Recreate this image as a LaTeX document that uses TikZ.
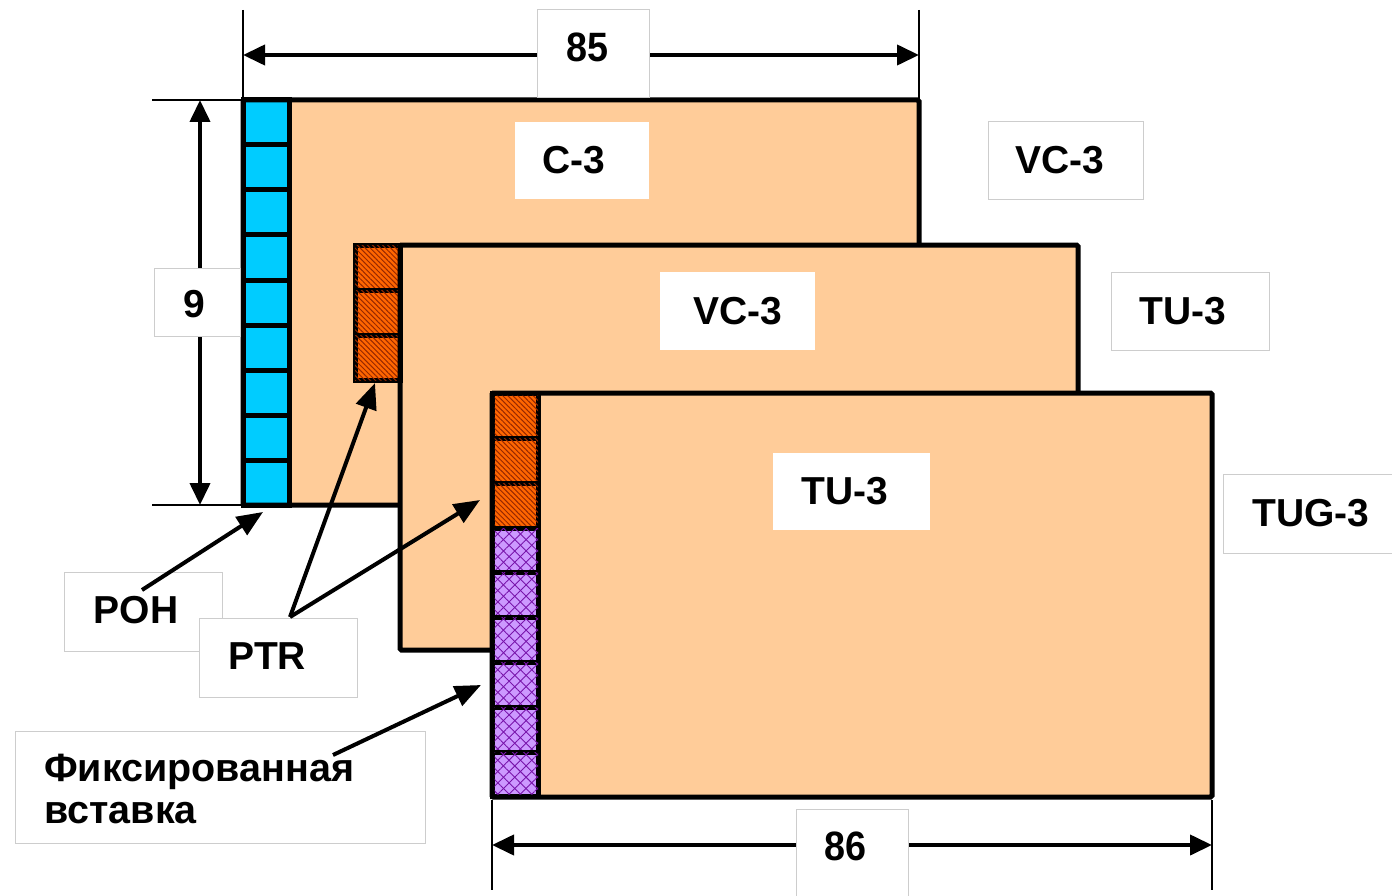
\documentclass[tikz,border=0pt]{standalone}
\usepackage{fontspec}
\setmainfont{Liberation Sans}
\usetikzlibrary{arrows.meta,patterns,patterns.meta}
\definecolor{peach}{RGB}{255,204,153}
\definecolor{pohblue}{RGB}{0,204,255}
\definecolor{ptrorange}{RGB}{255,102,0}
\definecolor{ptrdark}{RGB}{150,40,0}
\definecolor{fixlilac}{RGB}{204,153,255}
\definecolor{fixpurple}{RGB}{120,20,170}
\definecolor{boxgrey}{RGB}{205,205,205}
\tikzset{
  framebox/.style={draw=black, line width=5pt, rounded corners=1.5pt},
  cellbox/.style={draw=black, line width=5pt},
  pohcell/.style={cellbox, fill=pohblue},
  ptrcell/.style={cellbox, fill=ptrorange, postaction={pattern={Lines[angle=-45,distance=3.6pt,line width=1pt]}, pattern color=ptrdark}},
  fixcell/.style={cellbox, fill=fixlilac,
     postaction={pattern={Lines[angle=45,distance=8pt,line width=0.9pt]}, pattern color=fixpurple},
     postaction={pattern={Lines[angle=-45,distance=8pt,line width=0.9pt]}, pattern color=fixpurple}},
  dimline/.style={line width=4pt, {Triangle[length=22pt,width=20pt]}-{Triangle[length=22pt,width=20pt]}},
  extline/.style={line width=1.5pt},
  callout/.style={line width=4pt, -{Triangle[length=26pt,width=21pt]}},
  labfont/.style={font=\fontsize{39}{44}\selectfont\bfseries},
  inlabel/.style={fill=white, inner sep=0pt, labfont},
  outlabel/.style={fill=white, draw=boxgrey, line width=1pt, inner sep=0pt, labfont},
  dimfont/.style={font=\fontsize{41}{44}\selectfont\bfseries},
  dimlabel/.style={fill=white, draw=boxgrey, line width=1pt, inner sep=0pt},
}
\begin{document}
\begin{tikzpicture}[x=1pt,y=-1pt]
\useasboundingbox (0,0) rectangle (1392,896);
\fill[white] (0,0) rectangle (1392,896);

% ---------- frame 1 : VC-3 (C-3 + POH)
\fill[peach] (243,100) rectangle (919,505);
\foreach \i in {0,...,8}
  \draw[pohcell] (243,100+45*\i) rectangle (289,145+45*\i);
\draw[framebox] (243,100) rectangle (919,505);

% ---------- frame 2 : TU-3 (VC-3 + PTR)
\fill[peach] (400,245) rectangle (1078,650);
\foreach \i in {0,...,2}
  \draw[ptrcell] (355,245+45*\i) rectangle (400,290+45*\i);
\draw[framebox] (400,245) rectangle (1078,650);

% ---------- frame 3 : TUG-3
\fill[peach] (492,393) rectangle (1212,797);
\foreach \i in {0,...,2}
  \draw[ptrcell] (492,393+45*\i) rectangle (538,438+45*\i);
\foreach \i in {0,...,5}
  \draw[fixcell] (492,528+44.83*\i) rectangle (538,572.83+44.83*\i);
\draw[framebox] (492,393) rectangle (1212,797);

% ---------- extension lines
\coordinate (e85a) at (243,10);  \coordinate (e85b) at (243,100);
\coordinate (e85c) at (919,10);  \coordinate (e85d) at (919,100);
\coordinate (e9a) at (152,100);  \coordinate (e9b) at (243,100);
\coordinate (e9c) at (152,505);  \coordinate (e9d) at (243,505);
\coordinate (e86a) at (492,800); \coordinate (e86b) at (492,890);
\coordinate (e86c) at (1212,800);\coordinate (e86d) at (1212,890);
\draw[extline] (e85a) -- (e85b);
\draw[extline] (e85c) -- (e85d);
\draw[extline] (e9a) -- (e9b);
\draw[extline] (e9c) -- (e9d);
\draw[extline] (e86a) -- (e86b);
\draw[extline] (e86c) -- (e86d);

% ---------- dimension lines
\coordinate (d85l) at (243,55);  \coordinate (d85r) at (919,55);
\coordinate (d9t) at (200,100);  \coordinate (d9b) at (200,505);
\coordinate (d86l) at (492,845); \coordinate (d86r) at (1212,845);
\draw[dimline] (d85l) -- (d85r);
\draw[dimline] (d9t) -- (d9b);
\draw[dimline] (d86l) -- (d86r);
\node[dimlabel, minimum width=112pt, minimum height=88pt] (l85) at (593,54) {};
\node[dimfont, xscale=0.92] (t85) at (587,47) {85};
\node[dimlabel, minimum width=86pt, minimum height=68pt] (l9) at (197,302) {};
\node[labfont] (t9) at (194,304) {9};
\node[dimlabel, minimum width=112pt, minimum height=92pt] (l86) at (852,855) {};
\node[dimfont, xscale=0.92] (t86) at (845.5,846) {86};

% ---------- inner labels
\node[inlabel, minimum width=134pt, minimum height=77pt] (c3) at (582,160.5) {};
\node[labfont] (c3t) at (574,160) {C-3};
\node[inlabel, minimum width=155pt, minimum height=78pt] (vc3in) at (737.5,311) {VC-3};
\node[inlabel, minimum width=157pt, minimum height=77pt] (tu3in) at (851.5,491.5) {};
\node[labfont] (tu3int) at (845,491) {TU-3};

% ---------- outer labels
\node[outlabel, minimum width=155pt, minimum height=78pt] (vc3out) at (1065.5,161) {};
\node[labfont] (vc3outt) at (1060,160) {VC-3};
\node[outlabel, minimum width=158pt, minimum height=78pt] (tu3out) at (1190,311) {};
\node[labfont] (tu3outt) at (1183,311) {TU-3};
\node[outlabel, minimum width=172pt, minimum height=79pt] (tug3) at (1309,513.5) {};
\node[labfont] (tug3t) at (1311,513) {TUG-3};

% ---------- callout boxes
\node[outlabel, minimum width=158pt, minimum height=79pt] (pohbox) at (143,611.5) {};
\node[outlabel, minimum width=158pt, minimum height=79pt] (ptrbox) at (278,657.5) {};
\node[outlabel, minimum width=410pt, minimum height=112pt] (fixbox) at (220,787) {};

% ---------- callout arrows
\coordinate (pohs) at (142,590);  \coordinate (pohtip) at (263,512);
\coordinate (ptrs) at (290,617);
\coordinate (ptrtip1) at (375,383); \coordinate (ptrtip2) at (480,500);
\coordinate (fixs) at (333,755);  \coordinate (fixtip) at (481,685);
\draw[callout] (pohs) -- (pohtip);
\draw[callout] (ptrs) -- (ptrtip1);
\draw[callout] (ptrs) -- (ptrtip2);
\draw[callout] (fixs) -- (fixtip);

% ---------- callout texts
\node[labfont] (pohtext) at (136,610) {POH};
\node[labfont] (ptrtext) at (267,656) {PTR};
\node[anchor=base west, align=left, inner sep=0pt, font=\fontsize{39.5}{42}\selectfont\bfseries] (fixtext) at (44,823) {Фиксированная\\вставка};
\end{tikzpicture}
\end{document}
